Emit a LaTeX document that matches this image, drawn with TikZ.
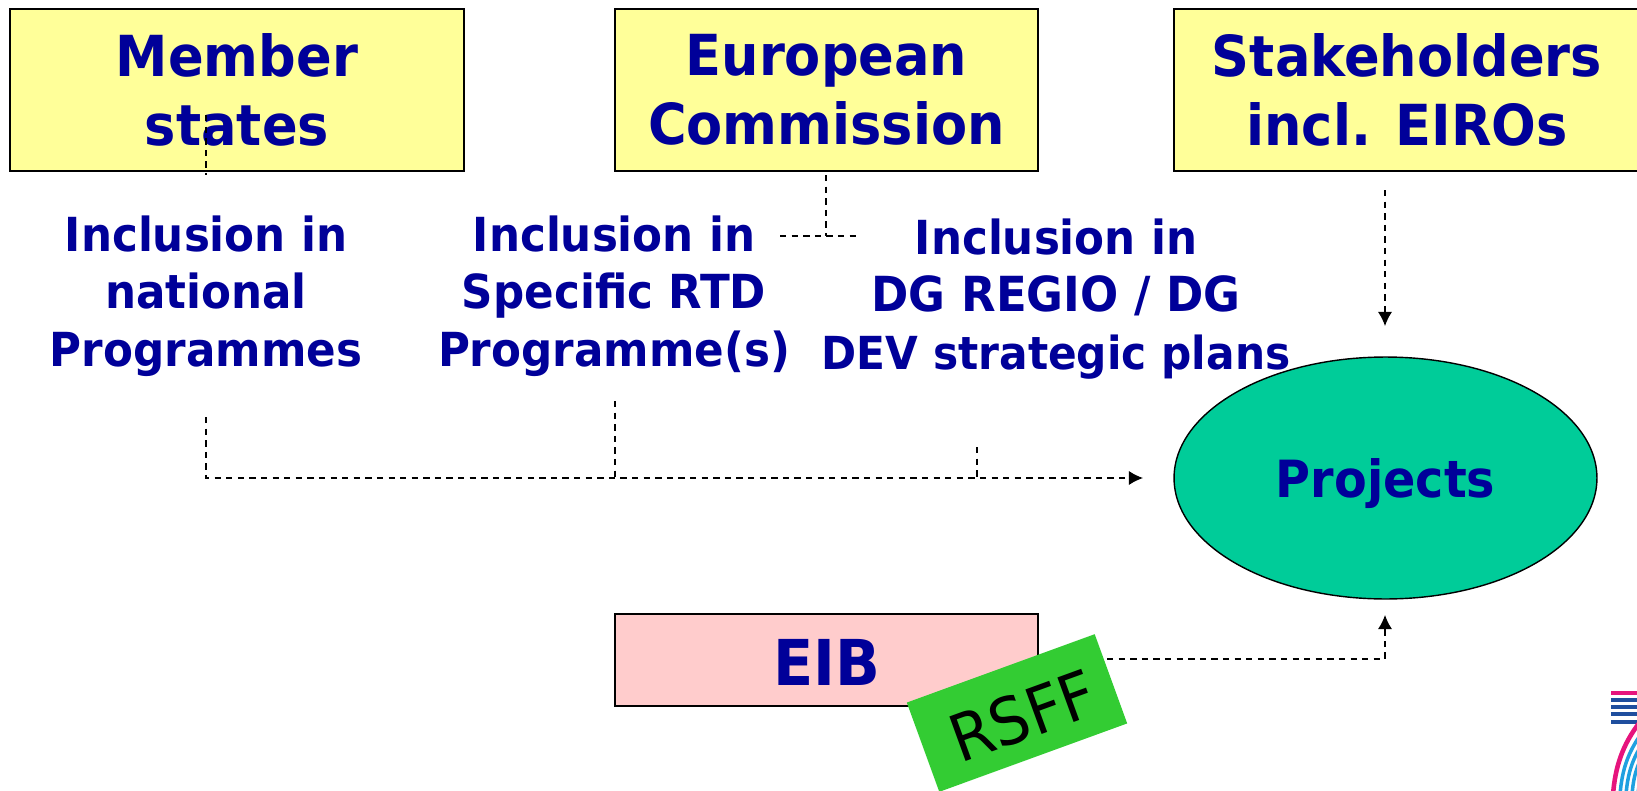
\documentclass[tikz,border=0pt]{standalone}
\usepackage{fontspec}
\setmainfont[FakeStretch=0.93]{DejaVu Sans}
\usetikzlibrary{positioning,arrows.meta,shapes.geometric}
\definecolor{boxyellow}{HTML}{FFFF99}
\definecolor{boxpink}{HTML}{FFCCCC}
\definecolor{projteal}{HTML}{00CC99}
\definecolor{rsffgreen}{HTML}{33CC33}
\definecolor{labelblue}{HTML}{000099}
\definecolor{logopink}{HTML}{E6147D}
\definecolor{logoblue}{HTML}{1F4E9E}
\definecolor{logocyan}{HTML}{1FA0E0}
\tikzset{
    actor/.style={draw=black,line width=0.8pt,fill=boxyellow,minimum width=8.7cm,minimum height=3.24cm,
        align=center,text=labelblue,font=\fontsize{32.2}{39}\selectfont\bfseries,
        execute at begin node={\rule{0pt}{30pt}}},
    route/.style={text=labelblue,align=center,font=\fontsize{26.7}{32.7}\selectfont\bfseries},
    link/.style={black,line width=0.7pt,dash pattern=on 3.6pt off 3pt},
    linkarrow/.style={link,-{Latex[length=8pt,width=8pt]}}
}
\begin{document}
\begin{tikzpicture}[x=0.02cm,y=-0.02cm]
    \useasboundingbox (0,0) rectangle (1637,791);
    \node[actor,minimum width=9.08cm]   (member) at (237,90)  {Member\\states};
    \node[actor,minimum width=8.46cm]   (ec)     at (826.5,90)  {European\\Commission};
    \node[actor,minimum width=9.32cm]   (stake)  at (1407,90) {Stakeholders\\incl. EIROs};
    \node[route] (natl) at (206,296) {Inclusion in\\national\\Programmes};
    \node[route] (rtd)  at (614,296) {Inclusion in\\Specific RTD\\Programme(s)};
    \node[route] (dg)   at (1056,299) {Inclusion in\\{\fontsize{27.5}{32.7}\selectfont DG REGIO / DG}\\{\fontsize{25.9}{32.7}\selectfont DEV strategic plans}};
    \node[ellipse,draw=black,line width=0.8pt,fill=projteal,minimum width=8.46cm,minimum height=4.84cm,route,
        font=\fontsize{29.2}{36}\selectfont\bfseries,execute at begin node={\rule{0pt}{28pt}}] (proj) at (1385.5,478) {Projects};
    \node[draw=black,line width=0.8pt,fill=boxpink,minimum width=8.46cm,minimum height=1.84cm,text=labelblue,
        font=\fontsize{36}{40}\selectfont\bfseries,execute at begin node={\rule{0pt}{29pt}}] (eib) at (826.5,660) {EIB};
    \node[fill=rsffgreen,rotate=20,minimum width=4cm,minimum height=1.9cm,font=\fontsize{37}{40}\selectfont,
        execute at begin node={\hspace*{5pt}\rule{0pt}{33pt}}] (rsff) at (1017,713) {RSFF};
    % connector ends
    \coordinate (mtop) at (206,115);
    \coordinate (mlow) at (206,175);
    \coordinate (nstart) at (206,417);
    \coordinate (rstart) at (615,401);
    \coordinate (dstart) at (977,447);
    \coordinate (bus) at (206,478);
    \coordinate (rjoin) at (615,478);
    \coordinate (djoin) at (977,478);
    \coordinate (busend) at (1143,478);
    \coordinate (ectop) at (826,175);
    \coordinate (ecjoin) at (826,236);
    \coordinate (ecleft) at (780,236);
    \coordinate (ecright) at (858,236);
    \coordinate (stop) at (1385,190);
    \coordinate (send) at (1385,326);
    \coordinate (rout) at (1107,659);
    \coordinate (rcorner) at (1385,659);
    \coordinate (rend) at (1385,615);
    \draw[link] (mtop) -- (mlow);
    \draw[link] (ectop) -- (ecjoin);
    \draw[link] (ecleft) -- (ecright);
    \draw[linkarrow] (stop) -- (send);
    \draw[linkarrow] (nstart) -- (bus) -- (busend);
    \draw[link] (rstart) -- (rjoin);
    \draw[link] (dstart) -- (djoin);
    \draw[linkarrow] (rout) -- (rcorner) -- (rend);
    % logo corner
    \fill[logopink] (1611,691) rectangle (1637,695);
    \foreach \ys in {698,705,712,720}
        \fill[logoblue] (1611,\ys) rectangle (1637,\ys+4);
    \begin{scope}
        \clip (1600,720) rectangle (1637,791);
        \draw[logopink,line width=2.6pt] (1640,722) .. controls (1622,745) and (1615,768) .. (1613,795);
        \foreach \dx in {7,13,19,25}
            \draw[logocyan,line width=2pt] (1640+\dx,722+\dx*0.6) .. controls (1622+\dx,745+\dx*0.5) and (1615+\dx,768) .. (1613+\dx,795);
    \end{scope}
\end{tikzpicture}
\end{document}
